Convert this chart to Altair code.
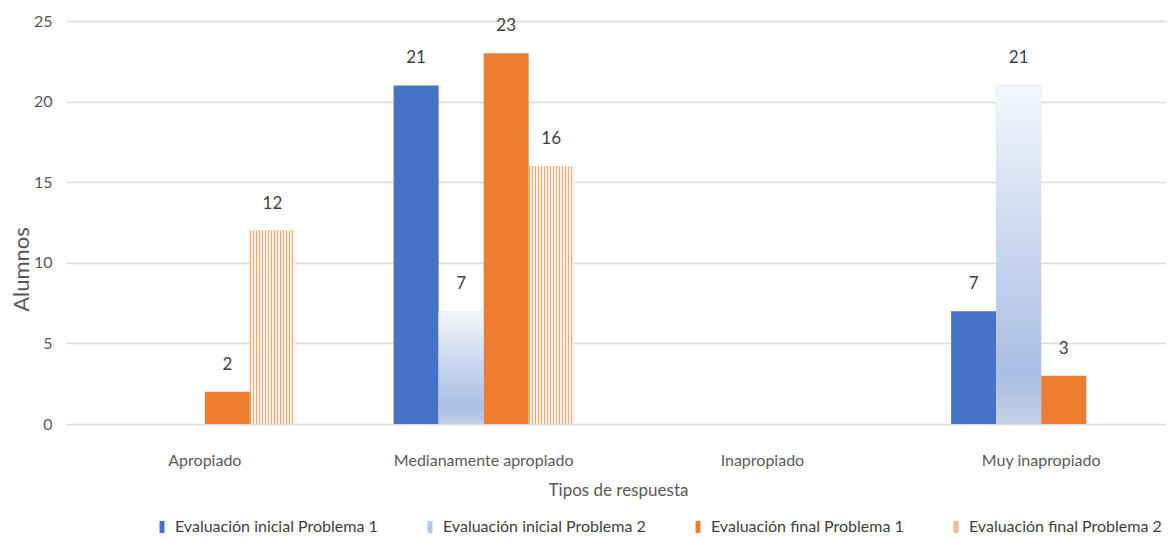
import altair as alt
import pandas as pd

categories = ["Apropiado", "Medianamente apropiado", "Inapropiado", "Muy inapropiado"]
series = [
    "Evaluación inicial Problema 1",
    "Evaluación inicial Problema 2",
    "Evaluación final Problema 1",
    "Evaluación final Problema 2",
]
ini_p1 = [0, 21, 0, 7]
ini_p2 = [0, 7, 0, 21]
fin_p1 = [2, 23, 0, 3]
fin_p2 = [12, 16, 0, 0]

rows = []
for s, vals in zip(series, [ini_p1, ini_p2, fin_p1, fin_p2]):
    for c, v in zip(categories, vals):
        rows.append({"cat": c, "series": s, "value": v})
df = pd.DataFrame(rows)

FONT = "Lato, Liberation Sans, sans-serif"
colors = ["#4472c4", "#b4c7e7", "#ed7d31", "#f6b890"]

x = alt.X("cat:N", sort=categories,
          scale=alt.Scale(paddingInner=0.354, paddingOuter=0.15, align=0.584),
          axis=alt.Axis(title="Tipos de respuesta", labelAngle=0, domain=False, ticks=False,
                        labelPadding=28, titlePadding=14, titleX=552))
xo = alt.XOffset("series:N", sort=series, scale=alt.Scale(domain=series))
y = alt.Y("value:Q", scale=alt.Scale(domain=[0, 25]),
          axis=alt.Axis(title="Alumnos", values=[0, 5, 10, 15, 20, 25], domain=False, ticks=False,
                        labelPadding=14, titlePadding=0, titleY=248, titleAlign="center",
                        gridColor="#d9d9d9", gridWidth=1.5))

base = alt.Chart(df)

bars = base.mark_bar().encode(
    x=x, xOffset=xo, y=y,
    color=alt.Color("series:N", sort=series,
                    scale=alt.Scale(domain=series, range=colors),
                    legend=alt.Legend(title=None, orient="none", direction="horizontal",
                                      legendX=88, legendY=498,
                                      symbolType="M-0.4,-1H0.4V1H-0.4Z", symbolSize=150,
                                      symbolStrokeWidth=0, labelFontSize=16, columnPadding=44,
                                      labelLimit=400, labelOffset=5,
                                      labelColor="#404040")),
)

grad2 = alt.Gradient(
    gradient="linear", x1=0, y1=0, x2=0, y2=1,
    stops=[
        alt.GradientStop(offset=0, color="#f3f6fc"),
        alt.GradientStop(offset=0.85, color="#a9bee4"),
        alt.GradientStop(offset=1, color="#c2d0ea"),
    ],
)
bars2 = base.transform_filter(alt.datum.series == series[1]).mark_bar(color=grad2).encode(
    x=x, xOffset=xo, y=y
)

N = 15
stops = []
for i in range(N):
    a = i / N
    b = (i + 0.5) / N
    c = (i + 1) / N
    stops += [
        alt.GradientStop(offset=a, color="#f4a772"),
        alt.GradientStop(offset=b, color="#f4a772"),
        alt.GradientStop(offset=b, color="#fef1e8"),
        alt.GradientStop(offset=c, color="#fef1e8"),
    ]
grad4 = alt.Gradient(gradient="linear", x1=0, y1=0, x2=1, y2=0, stops=stops)
bars4 = base.transform_filter(alt.datum.series == series[3]).mark_bar(color=grad4).encode(
    x=x, xOffset=xo, y=y
)

labels = base.transform_filter(alt.datum.value > 0).mark_text(
    dy=-18, baseline="bottom", fontSize=17, color="#404040", font=FONT
).encode(x=x, xOffset=xo, y=y, text=alt.Text("value:Q"))

chart = alt.layer(bars, bars2, bars4, labels).properties(
    width=1100, height=403, padding={"left": 2, "top": 5, "right": 0, "bottom": 0}
).configure_view(stroke=None).configure_axis(
    labelFont=FONT, titleFont=FONT, labelFontSize=16, titleFontSize=17,
    labelColor="#595959", titleColor="#595959", titleFontWeight="normal",
).configure_axisY(titleFontSize=22).configure_legend(labelFont=FONT)

chart.save("out.html", embed_options={"renderer": "svg", "actions": False})
